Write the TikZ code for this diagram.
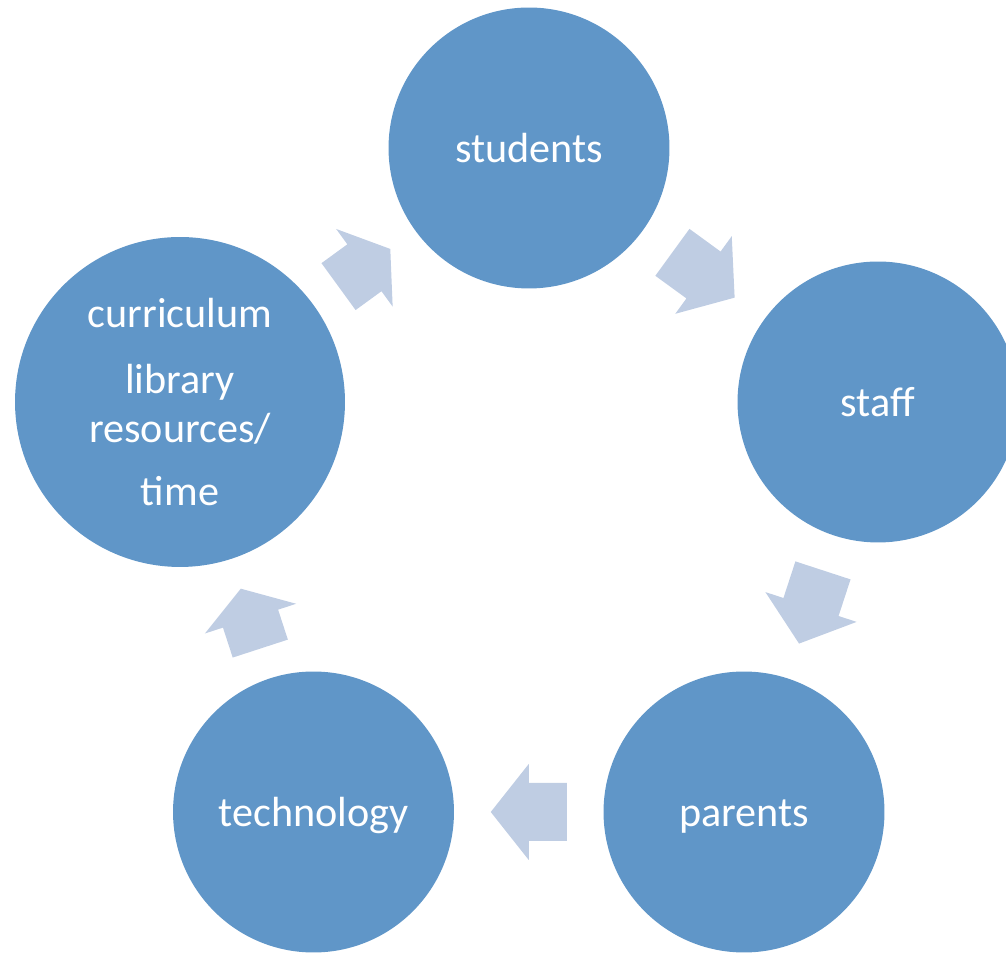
\documentclass[tikz,border=0pt]{standalone}
\usepackage{fontspec}
\setmainfont{Carlito}
\definecolor{topicblue}{RGB}{96,150,200}
\definecolor{arrowtint}{RGB}{191,205,227}

\begin{document}
\begin{tikzpicture}[x=0.02cm,y=0.02cm,
		topic/.style={circle,fill=topicblue,text=white,inner sep=0pt,minimum size=5.62cm,align=center,font=\fontsize{24}{27.9}\selectfont},
		oneline/.style={text height=20pt,text depth=3pt},
		flowarrow/.pic={\fill[arrowtint] (-0.5*#1,-29) -- (0,-29) -- (0,-48) -- (0.5*#1,0) -- (0,48) -- (0,29) -- (-0.5*#1,29) -- cycle;}]
			\clip (0,0) rectangle (1006,952);
			\node[topic,oneline] (students)at(529,804) {students};
			\node[topic,oneline] (staff)at(878,550) {staff};
			\node[topic,oneline] (parents)at(744,140) {parents};
			\node[topic,oneline] (technology)at(313.5,140) {technology};
			\node[topic,minimum size=6.6cm] (curriculum)at(180,550) {curriculum\\[0.34cm]library\\resources/\\[0.28cm]time};
			\path (curriculum) -- (students) pic[midway,sloped,allow upside down] {flowarrow=64};
			\path (students) -- (staff) pic[midway,sloped,allow upside down] {flowarrow=77};
			\path (staff) -- (parents) pic[midway,sloped,allow upside down] {flowarrow=77};
			\path (parents) -- (technology) pic[midway,sloped,allow upside down] {flowarrow=76};
			\path (technology) -- (curriculum) pic[midway,sloped,allow upside down] {flowarrow=63};
		\end{tikzpicture}
\end{document}
